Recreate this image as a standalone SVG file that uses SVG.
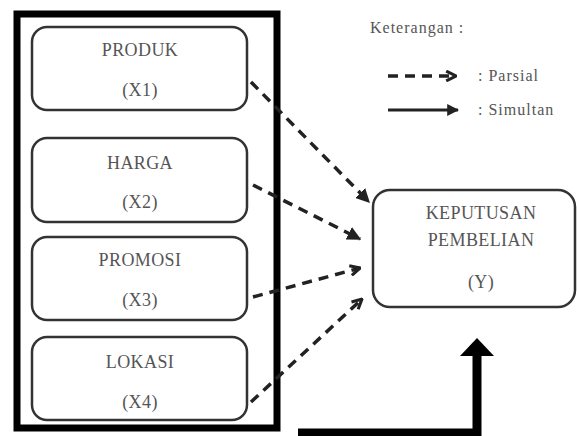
<svg xmlns="http://www.w3.org/2000/svg" width="577" height="436" viewBox="0 0 577 436">
<defs>
<style>
.box{fill:#fff;stroke:#333;stroke-width:2.5}
.t{font-family:"Liberation Serif","Times New Roman",serif;font-size:18px;fill:#555;text-anchor:middle;letter-spacing:0.4px}
.lg{font-family:"Liberation Serif","Times New Roman",serif;font-size:16px;fill:#555;letter-spacing:1px}
.dash{fill:none;stroke:#222;stroke-width:3.5;stroke-dasharray:10 7}
.solid{fill:none;stroke:#222;stroke-width:3}
</style>
<marker id="ah" viewBox="0 0 10 10" refX="9" refY="5" markerWidth="4" markerHeight="4" orient="auto" markerUnits="strokeWidth">
<path d="M0,0 L10,5 L0,10 Z" fill="#222"/>
</marker>
<marker id="ch" viewBox="0 0 10 10" refX="9" refY="5" markerWidth="3.5" markerHeight="3.5" orient="auto" markerUnits="strokeWidth">
<path d="M1,1 L9,5 L1,9" fill="none" stroke="#222" stroke-width="2.5"/>
</marker>
</defs>
<rect width="577" height="436" fill="#fff"/>
<g id="frame">
<rect x="17" y="14" width="260" height="414" fill="none" stroke="#000" stroke-width="7"/>
</g>
<g id="x1">
<rect class="box" x="32" y="27" width="215" height="83" rx="15"/>
<text class="t" x="140" y="56">PRODUK</text>
<text class="t" x="140" y="96">(X1)</text>
</g>
<g id="x2">
<rect class="box" x="32" y="138" width="215" height="84" rx="15"/>
<text class="t" x="140" y="169">HARGA</text>
<text class="t" x="140" y="208">(X2)</text>
</g>
<g id="x3">
<rect class="box" x="32" y="237" width="215" height="83" rx="15"/>
<text class="t" x="140" y="266">PROMOSI</text>
<text class="t" x="140" y="306">(X3)</text>
</g>
<g id="x4">
<rect class="box" x="32" y="337" width="215" height="83" rx="15"/>
<text class="t" x="140" y="368">LOKASI</text>
<text class="t" x="140" y="408">(X4)</text>
</g>
<g id="y">
<rect class="box" x="373" y="190" width="202" height="117" rx="17"/>
<text class="t" x="481" y="219">KEPUTUSAN</text>
<text class="t" x="481" y="246">PEMBELIAN</text>
<text class="t" x="481" y="288">(Y)</text>
</g>
<g id="legend">
<text class="lg" x="370" y="33">Keterangan :</text>
<line class="dash" x1="388" y1="76" x2="456" y2="76" marker-end="url(#ch)" stroke-dasharray="8 6"/>
<text class="lg" x="478" y="81">: Parsial</text>
<line class="solid" x1="388" y1="110" x2="458" y2="110" marker-end="url(#ah)"/>
<text class="lg" x="478" y="115">: Simultan</text>
</g>
<g id="connectors">
<line class="dash" x1="251" y1="82" x2="369" y2="202" marker-end="url(#ah)"/>
<line class="dash" x1="253" y1="185" x2="360" y2="239" marker-end="url(#ah)"/>
<line class="dash" x1="253" y1="297" x2="360" y2="268" marker-end="url(#ch)"/>
<line class="dash" x1="251" y1="402" x2="362" y2="299" marker-end="url(#ch)"/>
<polyline points="298,433 477,433 477,352" fill="none" stroke="#000" stroke-width="9"/>
<path d="M460,356 L477,338 L494,356 Z" fill="#000"/>
</g>
</svg>
